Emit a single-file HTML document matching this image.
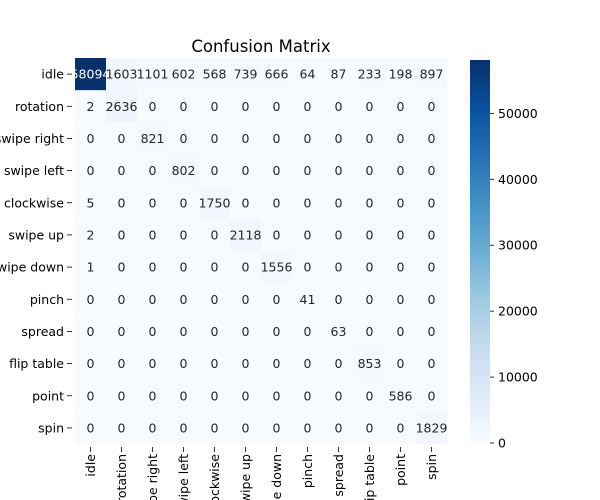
<!DOCTYPE html>
<html><head><meta charset="utf-8"><style>
html,body{margin:0;padding:0;background:#fff;overflow:hidden}
svg{display:block;font-family:"DejaVu Sans","Liberation Sans",sans-serif}
</style></head><body>
<svg id="chart" width="600" height="500">
<text x="261" y="52" text-anchor="middle" font-size="16.5">Confusion Matrix</text>
<g id="cells"></g>
<g id="labels"></g>
<g id="cbar"></g>
</svg>
<script>
const classes=["idle","rotation","swipe right","swipe left","clockwise","swipe up","swipe down","pinch","spread","flip table","point","spin"];
const row0=[58094,1603,1101,602,568,739,666,64,87,233,198,897];
const diag=[58094,2636,821,802,1750,2118,1556,41,63,853,586,1829];
const firstCol=[58094,2,0,0,5,2,1,0,0,0,0,0];
const cbarTicks=[0,10000,20000,30000,40000,50000];
const NS="http://www.w3.org/2000/svg";
const svg=document.getElementById('chart');
const X0=75,X1=447,Y0=58,Y1=444;
const n=classes.length,cw=(X1-X0)/n,ch=(Y1-Y0)/n;
const vmax=Math.max(...row0,...diag);
function mat(i,j){if(i===0)return row0[j];if(i===j)return diag[i];if(j===0)return firstCol[i];return 0;}
const stops=[[247,251,255],[222,235,247],[198,219,239],[158,202,225],[107,174,214],[66,146,198],[33,113,181],[8,81,156],[8,48,107]];
function color(v){let t=Math.max(0,Math.min(1,v/vmax))*(stops.length-1);let k=Math.min(stops.length-2,Math.floor(t));let f=t-k;
const c=stops[k].map((a,m)=>Math.round(a+(stops[k+1][m]-a)*f));return `rgb(${c})`;}
function el(tag,attrs,parent){const e=document.createElementNS(NS,tag);for(const a in attrs)e.setAttribute(a,attrs[a]);parent.appendChild(e);return e;}
const cells=document.getElementById('cells'),labels=document.getElementById('labels');
for(let i=0;i<n;i++)for(let j=0;j<n;j++){const v=mat(i,j);
const r=el('rect',{x:X0+j*cw,y:Y0+i*ch,width:cw+0.3,height:ch+0.3,fill:color(v)},cells);

}
for(let i=0;i<n;i++)for(let j=0;j<n;j++){const v=mat(i,j);
const t=el('text',{x:X0+(j+0.5)*cw,y:Y0+(i+0.5)*ch+4.5,'text-anchor':'middle','font-size':'12.5',fill:v/vmax>0.5?'#fff':'#262626'},cells);
t.textContent=v;

}
classes.forEach((c,i)=>{const y=Y0+(i+0.5)*ch;
el('line',{x1:X0-8,x2:X0-3,y1:y,y2:y,stroke:'#000','stroke-width':0.8},labels);
const t=el('text',{x:X0-11,y:y+4.5,'text-anchor':'end','font-size':'12.5'},labels);t.textContent=c;


const x=X0+(i+0.5)*cw;
el('line',{x1:x,x2:x,y1:Y1+3,y2:Y1+8,stroke:'#000','stroke-width':0.8},labels);
const u=el('text',{x:0,y:0,'text-anchor':'end','font-size':'12.5',transform:`translate(${x+4.5},${Y1+10}) rotate(-90)`},labels);u.textContent=c;

});
const cb=document.getElementById('cbar');const CX=470,CW=20,CT=60,CB=443;
const defs=el('defs',{},svg);const g=el('linearGradient',{id:'grad',x1:0,y1:1,x2:0,y2:0},defs);
stops.forEach((s,k)=>el('stop',{offset:k/(stops.length-1),'stop-color':`rgb(${s})`},g));
el('rect',{x:CX,y:CT,width:CW,height:CB-CT,fill:'url(#grad)'},cb);
cbarTicks.forEach(v=>{const y=CB-(v/vmax)*(CB-CT);
el('line',{x1:CX+CW,x2:CX+CW+4,y1:y,y2:y,stroke:'#000','stroke-width':0.8},cb);
const t=el('text',{x:CX+CW+8,y:y+4.5,'font-size':'12.5'},cb);t.textContent=v;

});
</script>
</body></html>
